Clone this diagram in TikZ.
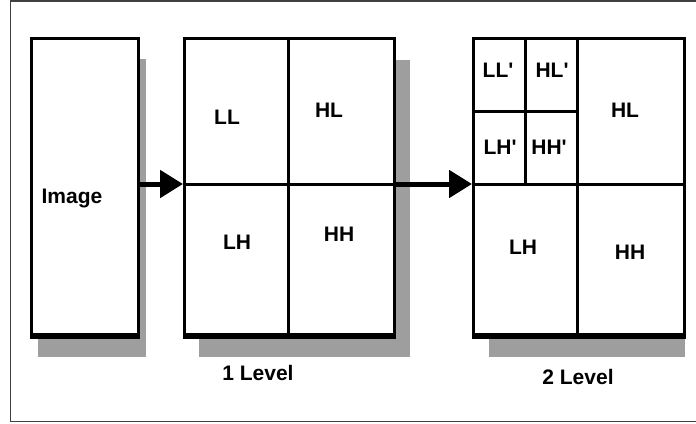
\documentclass[tikz,border=0pt]{standalone}
\usepackage{fontspec}
\setmainfont{Liberation Sans}[Ligatures=TeXOff]
\usetikzlibrary{arrows.meta}
\tikzset{
  panel/.style={draw=black, line width=3pt, fill=white, inner sep=0pt, anchor=north west},
  shade/.style={fill=black!38, draw=none},
  divider/.style={line width=3pt, black},
  baseedge/.style={line width=6pt, black},
  lbl/.style={font=\bfseries\fontsize{21}{24}\selectfont, inner sep=0pt},
  flow/.style={line width=5pt, -{Triangle[length=23pt,width=27pt]}},
}
\begin{document}
\begin{tikzpicture}[x=1pt,y=-1pt]
\useasboundingbox (0,0) rectangle (696,423);
% outer frame
\draw[line width=1.5pt, black!75] (700,1) -- (10.5,1) -- (10.5,421.5) -- (700,421.5);
% shadows
\fill[shade] (38,59) rectangle (146,357);
\fill[shade] (199,60) rectangle (410,357);
\fill[shade] (489,60) rectangle (685,357);
% panels
\node[panel, minimum width=107pt, minimum height=296pt] (img) at (30,37) {};
\node[panel, minimum width=210pt, minimum height=296pt] (l1) at (183,37) {};
\node[panel, minimum width=211pt, minimum height=296pt] (l2) at (472,37) {};
% thick base edges
\draw[baseedge] (img.south west) -- (img.south east);
\draw[baseedge] (l1.south west) -- (l1.south east);
\draw[baseedge] (l2.south west) -- (l2.south east);
% level 1 dividers
\coordinate (l1m) at (288,184);
\draw[divider] (l1m |- l1.north) -- (l1m |- l1.south);
\draw[divider] (l1.west |- l1m) -- (l1.east |- l1m);
% level 2 dividers
\coordinate (l2m) at (577,184);
\coordinate (l2q) at (525,111);
\draw[divider] (l2m |- l2.north) -- (l2m |- l2.south);
\draw[divider] (l2.west |- l2m) -- (l2.east |- l2m);
\draw[divider] (l2q |- l2.north) -- (l2q |- l2m);
\draw[divider] (l2.west |- l2q) -- (l2m |- l2q);
% arrows
\draw[flow] (img.east |- l1m) -- (l1.west |- l1m);
\draw[flow] (l1.east |- l1m) -- (l2.west |- l2m);
% labels
\node[lbl] (timg) at (72,198) {Image};
\node[lbl] (tll) at (227,117) {LL};
\node[lbl] (thl) at (329,110) {HL};
\node[lbl] (tlh) at (237,242) {LH};
\node[lbl] (thh) at (339,234) {HH};
\node[lbl] (t1) at (258,373) {1 Level};
\node[lbl] (tll2) at (498,70) {LL'};
\node[lbl] (thl2) at (552,70) {HL'};
\node[lbl] (tlh2) at (500,147) {LH'};
\node[lbl] (thh2) at (549,147) {HH'};
\node[lbl] (thlb) at (625,110) {HL};
\node[lbl] (tlhb) at (523,247) {LH};
\node[lbl] (thhb) at (630,252) {HH};
\node[lbl] (t2) at (578,377) {2 Level};
\end{tikzpicture}
\end{document}
